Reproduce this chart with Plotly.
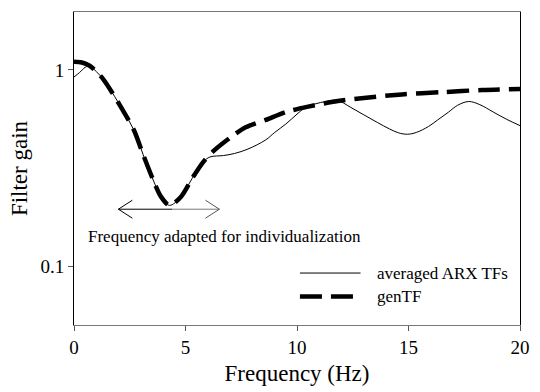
import math
import plotly.graph_objects as go

# ---- data ----
gen_freq = [0, 0.35, 0.7, 1.0, 1.3, 1.7, 2.2, 2.7, 3.1, 3.55, 3.9, 4.28, 4.8, 5.3,
            5.8, 6.3, 7.1, 7.7, 8.6, 9.5, 10.5, 11.7, 13.0, 14.7, 16.5, 18.3, 20]
gen_gain = [1.10, 1.09, 1.05, 0.98, 0.90, 0.77, 0.62, 0.49, 0.37, 0.275, 0.226, 0.204,
            0.226, 0.28, 0.34, 0.39, 0.46, 0.51, 0.556, 0.61, 0.65, 0.69, 0.72, 0.75,
            0.77, 0.79, 0.80]

arx_freq = [0, 0.25, 0.5, 0.7, 1.0, 1.3, 1.7, 2.2, 2.7, 3.1, 3.55, 3.9, 4.28, 4.8, 5.3,
            5.8, 6.1, 6.7, 7.2, 7.8, 8.6, 9.0, 9.5, 10.0, 10.35, 10.8, 11.3, 11.8,
            12.4, 13.0, 13.6, 14.15, 14.55, 14.95, 15.35, 15.9, 16.3, 16.8, 17.2, 17.7,
            18.2, 18.8, 19.4, 20]
arx_gain = [0.92, 0.97, 1.03, 1.05, 0.98, 0.90, 0.77, 0.62, 0.49, 0.37, 0.275, 0.226,
            0.204, 0.226, 0.28, 0.34, 0.36, 0.366, 0.375, 0.395, 0.44, 0.48, 0.53, 0.595,
            0.64, 0.67, 0.69, 0.70, 0.645, 0.59, 0.54, 0.50, 0.478, 0.47, 0.48, 0.515,
            0.555, 0.61, 0.66, 0.69, 0.665, 0.61, 0.56, 0.52]

x_ticks = [0, 5, 10, 15, 20]
y_ticks = [0.1, 1]
y_tick_labels = ["0.1", "1"]

series_names = ["averaged ARX TFs", "genTF"]

arrow_from, arrow_to, arrow_mid, arrow_gain = 1.99, 6.52, 4.4, 0.195
note_text = "Frequency adapted for individualization"
note_x, note_gain = 0.55, 0.141

FONT = "Liberation Serif, Times New Roman, serif"
DASH = "22px,9px"

fig = go.Figure()
fig.add_trace(go.Scatter(
    x=arx_freq, y=arx_gain, mode="lines", name=series_names[0], showlegend=False,
    line=dict(color="black", width=1, shape="spline", smoothing=1.0)))
fig.add_trace(go.Scatter(
    x=gen_freq, y=gen_gain, mode="lines", name=series_names[1], showlegend=False,
    line=dict(color="black", width=4.5, dash=DASH, shape="spline", smoothing=0.8)))

# double-headed arrow
fig.add_shape(type="line", xref="x", yref="y", x0=arrow_from, x1=arrow_mid,
              y0=arrow_gain, y1=arrow_gain, line=dict(color="black", width=1))
fig.add_shape(type="line", xref="x", yref="y", x0=arrow_mid, x1=arrow_to,
              y0=arrow_gain, y1=arrow_gain, line=dict(color="#777", width=1))
fig.add_shape(type="path", xref="x", yref="y", xsizemode="pixel", ysizemode="pixel",
              xanchor=arrow_from, yanchor=arrow_gain, path="M14,9 L0,0 L14,-9",
              line=dict(color="black", width=1))
fig.add_shape(type="path", xref="x", yref="y", xsizemode="pixel", ysizemode="pixel",
              xanchor=arrow_to, yanchor=arrow_gain, path="M-14,9 L0,0 L-14,-9",
              line=dict(color="#555", width=1))

fig.add_annotation(x=note_x, y=math.log10(note_gain), xref="x", yref="y",
                   text=note_text, showarrow=False, xanchor="left", yanchor="middle",
                   font=dict(family=FONT, size=17, color="black"))

# legend (drawn in paper coordinates)
leg_rows = [0.166, 0.091]
leg_styles = [dict(color="black", width=1), dict(color="black", width=4.5, dash=DASH)]
for name, yy, st in zip(series_names, leg_rows, leg_styles):
    fig.add_shape(type="line", xref="paper", yref="paper", x0=0.5066, x1=0.6425,
                  y0=yy, y1=yy, line=st)
    fig.add_annotation(x=0.6754, y=yy, xref="paper", yref="paper", text=name,
                       showarrow=False, xanchor="left", yanchor="middle",
                       font=dict(family=FONT, size=17, color="black"))

fig.update_layout(
    width=540, height=392,
    margin=dict(l=74, r=10, t=12, b=61),
    paper_bgcolor="white", plot_bgcolor="white",
    font=dict(family=FONT, color="black"),
    showlegend=False,
)
fig.update_xaxes(
    range=[0, 20], tickvals=x_ticks, ticks="outside", ticklen=5, tickcolor="#555",
    showline=True, linecolor="#777", linewidth=1, mirror=True, showgrid=False,
    zeroline=False, tickfont=dict(family=FONT, size=19),
    title=dict(text="Frequency (Hz)", font=dict(family=FONT, size=23), standoff=8))
fig.update_yaxes(
    type="log", range=[-1.3, 0.295], tickvals=y_ticks, ticktext=y_tick_labels,
    ticks="outside", ticklen=5, tickcolor="#555",
    showline=True, linecolor="black", linewidth=1, mirror=True, showgrid=False,
    zeroline=False, tickfont=dict(family=FONT, size=19),
    title=dict(text="Filter gain", font=dict(family=FONT, size=23), standoff=6))

fig.write_html("out.html")
